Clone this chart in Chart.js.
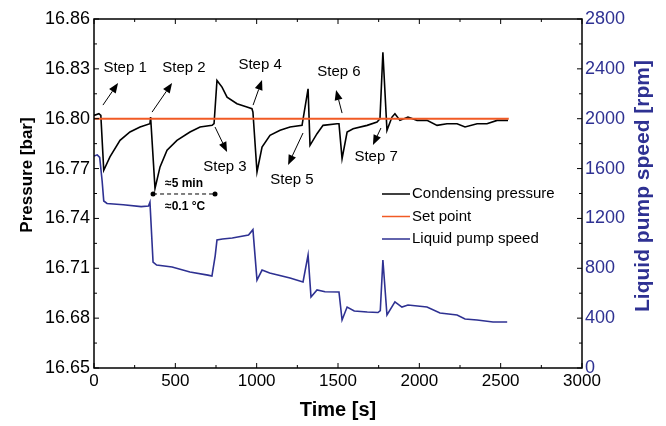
<!DOCTYPE html>
<html>
<head>
<meta charset="utf-8">
<script src="https://cdn.jsdelivr.net/npm/chart.js@4.4.1/dist/chart.umd.min.js"></script>
<style>
  body { margin: 0; background: #fff; }
  #wrap { width: 666px; height: 426px; }
</style>
</head>
<body>
<div id="wrap"><canvas id="chart" width="666" height="426"></canvas></div>
<script>
// tick labels
const xTicks = [0, 500, 1000, 1500, 2000, 2500, 3000]
const pTicks = [16.65, 16.68, 16.71, 16.74, 16.77, 16.80, 16.83, 16.86]
const rpmTicks = [0, 400, 800, 1200, 1600, 2000, 2400, 2800]

// condensing pressure [bar] vs time [s]
const pressTime = [0, 30, 42, 60, 98, 160, 221, 283, 344, 348, 375, 406, 449, 510, 590, 652, 726, 738, 756, 787, 818, 879, 940, 971, 977, 1002, 1033, 1082, 1144, 1205, 1279, 1316, 1328, 1371, 1408, 1494, 1506, 1525, 1556, 1593, 1679, 1740, 1758, 1776, 1801, 1832, 1850, 1881, 1930, 1986, 2047, 2109, 2170, 2232, 2281, 2355, 2416, 2478, 2545]
const pressure = [16.802, 16.803, 16.802, 16.769, 16.777, 16.787, 16.792, 16.795, 16.797, 16.801, 16.758, 16.771, 16.781, 16.787, 16.792, 16.795, 16.796, 16.797, 16.823, 16.819, 16.813, 16.809, 16.807, 16.806, 16.804, 16.768, 16.783, 16.790, 16.793, 16.795, 16.796, 16.818, 16.784, 16.791, 16.796, 16.797, 16.797, 16.776, 16.792, 16.794, 16.796, 16.798, 16.800, 16.840, 16.793, 16.801, 16.803, 16.799, 16.801, 16.799, 16.799, 16.796, 16.797, 16.797, 16.795, 16.797, 16.797, 16.799, 16.799]

// set point
const setTime = [0, 2550]
const setPoint = [16.80, 16.80]

// liquid pump speed [rpm] vs time [s]
const pumpTime = [0, 20, 35, 50, 60, 80, 180, 290, 335, 344, 363, 385, 480, 590, 700, 725, 745, 756, 790, 850, 950, 977, 990, 1002, 1033, 1080, 1205, 1285, 1316, 1334, 1371, 1420, 1506, 1525, 1556, 1600, 1680, 1746, 1760, 1776, 1801, 1850, 1893, 1930, 2047, 2127, 2232, 2281, 2355, 2453, 2540]
const pumpSpeed = [1700, 1710, 1690, 1500, 1340, 1320, 1310, 1295, 1300, 1330, 850, 826, 810, 770, 745, 738, 900, 1027, 1035, 1043, 1067, 1110, 900, 706, 786, 762, 722, 690, 906, 570, 626, 612, 610, 385, 489, 457, 449, 445, 460, 866, 425, 530, 489, 505, 489, 441, 425, 393, 385, 369, 369]

// step annotations: label, text anchor, arrow tail, arrow head (time, pressure)
const stepLabels = ['Step 1', 'Step 2', 'Step 3', 'Step 4', 'Step 5', 'Step 6', 'Step 7']
const stepText = [[191, 16.8305], [553, 16.8305], [805, 16.771], [1021, 16.8323], [1217, 16.763], [1506, 16.828], [1734, 16.777]]
const stepTail = [[55, 16.8082], [357, 16.804], [744, 16.795], [978, 16.8082], [1285, 16.7914], [1525, 16.8034], [1764, 16.7944]]
const stepHead = [[148, 16.8215], [480, 16.8215], [818, 16.780], [1033, 16.8233], [1193, 16.7722], [1488, 16.8173], [1715, 16.7842]]

const BLUE = '#2e3192'
const ORANGE = '#f15a24'
const FONT = '"Liberation Sans", Arial, sans-serif'

function pts(xs, ys){
  return xs.map((x, i) => ({x: x, y: ys[i]}))
}

function fixTicks(list){
  return function(scale){ scale.ticks = list.map(v => ({value: v})) }
}

function arrow(ctx, x1, y1, x2, y2){
  const a = Math.atan2(y2 - y1, x2 - x1)
  const len = 10, w = 4
  const bx = x2 - len*Math.cos(a), by = y2 - len*Math.sin(a)
  ctx.beginPath()
  ctx.moveTo(x1, y1)
  ctx.lineTo(bx, by)
  ctx.stroke()
  ctx.beginPath()
  ctx.moveTo(x2, y2)
  ctx.lineTo(bx + w*Math.sin(a), by - w*Math.cos(a))
  ctx.lineTo(bx - w*Math.sin(a), by + w*Math.cos(a))
  ctx.closePath()
  ctx.fill()
}

const decor = {
  id: 'decor',
  afterDraw(chart){
    const ctx = chart.ctx
    const a = chart.chartArea
    const sx = chart.scales.x, sy = chart.scales.y, sr = chart.scales.y2
    ctx.save()

    // frame
    ctx.strokeStyle = '#000'
    ctx.lineWidth = 1.5
    ctx.strokeRect(a.left, a.top, a.right - a.left, a.bottom - a.top)

    // inward ticks
    ctx.lineWidth = 1
    ctx.beginPath()
    for(let v = 0; v <= 3000; v += 250){
      const x = sx.getPixelForValue(v)
      const l = v % 500 === 0 ? 5 : 3
      ctx.moveTo(x, a.bottom); ctx.lineTo(x, a.bottom - l)
      ctx.moveTo(x, a.top); ctx.lineTo(x, a.top + l)
    }
    for(let k = 0; k <= 14; k++){
      const y = sy.getPixelForValue(16.65 + k*0.015)
      const l = k % 2 === 0 ? 5 : 3
      ctx.moveTo(a.left, y); ctx.lineTo(a.left + l, y)
    }
    for(let v = 0; v <= 2800; v += 200){
      const y = sr.getPixelForValue(v)
      const l = v % 400 === 0 ? 5 : 3
      ctx.moveTo(a.right, y); ctx.lineTo(a.right - l, y)
    }
    ctx.stroke()

    // axis titles
    ctx.fillStyle = '#000'
    ctx.textAlign = 'center'
    ctx.textBaseline = 'middle'
    ctx.font = 'bold 20px ' + FONT
    ctx.fillText('Time [s]', (a.left + a.right)/2, 410)
    ctx.save()
    ctx.translate(27, 175)
    ctx.rotate(-Math.PI/2)
    ctx.font = 'bold 17px ' + FONT
    ctx.fillText('Pressure [bar]', 0, 0)
    ctx.restore()
    ctx.save()
    ctx.translate(643, 186)
    ctx.rotate(-Math.PI/2)
    ctx.fillStyle = BLUE
    ctx.font = 'bold 21px ' + FONT
    ctx.fillText('Liquid pump speed [rpm]', 0, 0)
    ctx.restore()

    // step labels and arrows
    ctx.font = '15px ' + FONT
    ctx.fillStyle = '#000'
    ctx.strokeStyle = '#000'
    ctx.lineWidth = 1
    stepLabels.forEach((s, i) => {
      ctx.fillText(s, sx.getPixelForValue(stepText[i][0]), sy.getPixelForValue(stepText[i][1]))
      arrow(ctx,
        sx.getPixelForValue(stepTail[i][0]), sy.getPixelForValue(stepTail[i][1]),
        sx.getPixelForValue(stepHead[i][0]), sy.getPixelForValue(stepHead[i][1]))
    })

    // 5 min / 0.1 C marker
    const x1 = sx.getPixelForValue(363), x2 = sx.getPixelForValue(744)
    const ym = sy.getPixelForValue(16.7547)
    ctx.setLineDash([4, 3])
    ctx.beginPath(); ctx.moveTo(x1, ym); ctx.lineTo(x2, ym); ctx.stroke()
    ctx.setLineDash([])
    ;[x1, x2].forEach(x => { ctx.beginPath(); ctx.arc(x, ym, 2.5, 0, Math.PI*2); ctx.fill() })
    ctx.textAlign = 'left'
    ctx.font = 'bold 12px ' + FONT
    ctx.fillText('\u22485 min', sx.getPixelForValue(437), sy.getPixelForValue(16.7607))
    ctx.fillText('\u22480.1 \u00b0C', sx.getPixelForValue(437), sy.getPixelForValue(16.7469))

    // legend
    const leg = [['Condensing pressure', '#000'], ['Set point', ORANGE], ['Liquid pump speed', BLUE]]
    ctx.font = '15px ' + FONT
    leg.forEach((l, i) => {
      const y = 194 + i*22.5
      ctx.strokeStyle = l[1]
      ctx.lineWidth = 1.5
      ctx.beginPath(); ctx.moveTo(382, y); ctx.lineTo(410, y); ctx.stroke()
      ctx.fillStyle = '#000'
      ctx.fillText(l[0], 412, y)
    })
    ctx.restore()
  }
}

new Chart(document.getElementById('chart'), {
  type: 'line',
  data: {
    datasets: [
      { label: 'Set point', data: pts(setTime, setPoint), borderColor: ORANGE, borderWidth: 2, yAxisID: 'y', order: 1 },
      { label: 'Condensing pressure', data: pts(pressTime, pressure), borderColor: '#000', borderWidth: 1.6, yAxisID: 'y', order: 2 },
      { label: 'Liquid pump speed', data: pts(pumpTime, pumpSpeed), borderColor: BLUE, borderWidth: 1.6, yAxisID: 'y2', order: 3 }
    ]
  },
  options: {
    responsive: false,
    animation: false,
    events: [],
    elements: { point: { radius: 0 }, line: { tension: 0 } },
    layout: { padding: { top: 19, left: 0, right: 0, bottom: 0 } },
    plugins: { legend: { display: false }, tooltip: { enabled: false } },
    scales: {
      x: {
        type: 'linear', min: 0, max: 3000,
        afterBuildTicks: fixTicks(xTicks),
        afterFit: s => { s.height = 58 },
        grid: { display: false, drawTicks: false },
        border: { display: false },
        ticks: { color: '#000', font: { size: 17, family: FONT }, padding: 3, maxRotation: 0, callback: v => String(v) }
      },
      y: {
        position: 'left', min: 16.65, max: 16.86,
        afterBuildTicks: fixTicks(pTicks),
        afterFit: s => { s.width = 94 },
        grid: { display: false, drawTicks: false },
        border: { display: false },
        ticks: { color: '#000', font: { size: 18, family: FONT }, padding: 4, callback: v => v.toFixed(2) }
      },
      y2: {
        position: 'right', min: 0, max: 2800,
        afterBuildTicks: fixTicks(rpmTicks),
        afterFit: s => { s.width = 84 },
        grid: { display: false, drawTicks: false },
        border: { display: false },
        ticks: { color: BLUE, font: { size: 18, family: FONT }, padding: 3, callback: v => String(v) }
      }
    }
  },
  plugins: [decor]
})
</script>
</body>
</html>
